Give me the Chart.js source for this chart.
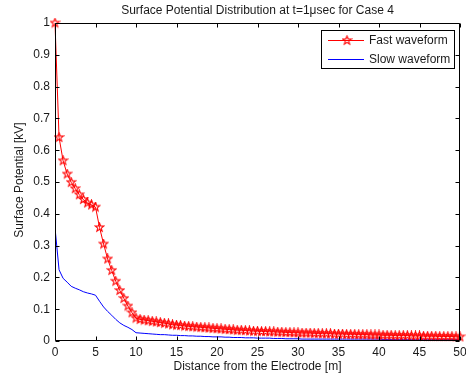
<!DOCTYPE html>
<html>
<head>
<meta charset="utf-8">
<script src="https://cdn.jsdelivr.net/npm/chart.js@4.4.1/dist/chart.umd.min.js"></script>
<style>
html,body{margin:0;padding:0;background:#fff;}
#wrap{width:466px;height:378px;position:relative;}
</style>
</head>
<body>
<div id="wrap"><canvas id="c"></canvas></div>
<script>
const titleText = "Surface Potential Distribution at t=1\u03BCsec for Case 4";
const xTitle = "Distance from the Electrode [m]";
const yTitle = "Surface Potential [kV]";
const seriesNames = ["Fast waveform", "Slow waveform"];

const distance = [0,0.5,1,1.5,2,2.5,3,3.5,4,4.5,5,5.5,6,6.5,7,7.5,8,8.5,9,9.5,
10,10.5,11,11.5,12,12.5,13,13.5,14,14.5,15,15.5,16,16.5,17,17.5,18,18.5,19,19.5,
20,20.5,21,21.5,22,22.5,23,23.5,24,24.5,25,25.5,26,26.5,27,27.5,28,28.5,29,29.5,
30,30.5,31,31.5,32,32.5,33,33.5,34,34.5,35,35.5,36,36.5,37,37.5,38,38.5,39,39.5,
40,40.5,41,41.5,42,42.5,43,43.5,44,44.5,45,45.5,46,46.5,47,47.5,48,48.5,49,49.5,50];

const fastWave = [1.0,0.64,0.567,0.525,0.499,0.479,0.46,0.445,0.434,0.428,
0.421,0.357,0.305,0.258,0.222,0.188,0.159,0.134,0.110,0.089,
0.072,0.068,0.066,0.064,0.062,0.060,0.058,0.056,0.054,0.051,
0.050,0.049,0.047,0.046,0.045,0.044,0.043,0.042,0.041,0.040,
0.039,0.038,0.037,0.036,0.035,0.034,0.034,0.033,0.032,0.031,
0.031,0.030,0.030,0.029,0.029,0.028,0.028,0.027,0.027,0.026,
0.026,0.025,0.025,0.025,0.024,0.024,0.023,0.023,0.023,0.022,
0.022,0.022,0.021,0.021,0.021,0.020,0.020,0.020,0.019,0.019,
0.019,0.018,0.018,0.018,0.017,0.017,0.017,0.017,0.016,0.016,
0.016,0.015,0.015,0.015,0.015,0.014,0.014,0.014,0.014,0.013,0.013];

const slowWave = [0.356,0.224,0.197,0.185,0.172,0.166,0.161,0.155,0.151,0.148,
0.144,0.125,0.107,0.093,0.081,0.068,0.057,0.049,0.043,0.036,
0.026,0.025,0.024,0.023,0.022,0.021,0.020,0.020,0.019,0.018,
0.018,0.017,0.017,0.016,0.016,0.015,0.015,0.014,0.014,0.013,
0.013,0.013,0.012,0.012,0.011,0.011,0.011,0.010,0.010,0.010,
0.009,0.009,0.009,0.009,0.008,0.008,0.008,0.007,0.007,0.007,
0.007,0.006,0.006,0.006,0.006,0.006,0.006,0.006,0.006,0.006,
0.006,0.006,0.006,0.006,0.006,0.006,0.006,0.006,0.006,0.006,
0.006,0.005,0.005,0.005,0.005,0.005,0.005,0.005,0.005,0.005,
0.005,0.005,0.005,0.005,0.005,0.005,0.005,0.005,0.005,0.005,0.005];

const xTicks = [0,5,10,15,20,25,30,35,40,45,50];
const yTicks = [0,0.1,0.2,0.3,0.4,0.5,0.6,0.7,0.8,0.9,1];

const FONT = '"Liberation Sans", Arial, sans-serif';
const TEXT = '#1a1a1a';

function makeStar(size, color){
  const cv = document.createElement('canvas');
  cv.width = size; cv.height = size;
  const g = cv.getContext('2d');
  const cx = size/2, cy = size/2, R = size/2 - 1, r = R*0.42;
  g.beginPath();
  for (let k=0;k<10;k++){
    const ang = -Math.PI/2 + k*Math.PI/5;
    const rr = (k%2===0)?R:r;
    const px = cx + rr*Math.cos(ang), py = cy + rr*Math.sin(ang);
    if(k===0) g.moveTo(px,py); else g.lineTo(px,py);
  }
  g.closePath();
  g.strokeStyle = color; g.lineWidth = 1.1;
  g.stroke();
  return cv;
}
const starImg = makeStar(11, '#ff0000');

const decor = {
  id:'decor',
  afterDraw(chart){
    const {ctx, chartArea:a, scales:{x,y}} = chart;
    ctx.save();
    ctx.strokeStyle = '#000'; ctx.lineWidth = 1;
    const L = Math.round(a.left)+0.5, R = Math.round(a.right)-0.5, T = Math.round(a.top)+0.5, B = Math.round(a.bottom)-0.5;
    ctx.beginPath();
    ctx.rect(L, T, R-L, B-T);
    ctx.stroke();
    const tl = 4;
    ctx.beginPath();
    xTicks.forEach(v=>{
      const px = Math.round(x.getPixelForValue(v))+0.5;
      ctx.moveTo(px,B); ctx.lineTo(px,B-tl);
      ctx.moveTo(px,T); ctx.lineTo(px,T+tl);
    });
    yTicks.forEach(v=>{
      const py = Math.round(y.getPixelForValue(v))+0.5;
      ctx.moveTo(L,py); ctx.lineTo(L+tl,py);
      ctx.moveTo(R,py); ctx.lineTo(R-tl,py);
    });
    ctx.stroke();

    // title & axis titles
    ctx.fillStyle = TEXT;
    ctx.font = '12px ' + FONT;
    ctx.textAlign = 'center'; ctx.textBaseline = 'middle';
    const cx = (a.left + a.right)/2;
    ctx.fillText(titleText, cx, 11);
    ctx.fillText(xTitle, cx, 367);
    ctx.save();
    ctx.translate(20, 180);
    ctx.rotate(-Math.PI/2);
    ctx.fillText(yTitle, 0, 0);
    ctx.restore();

    // legend
    const lx = 321.5, ly = 30.5, lw = 133, lh = 38;
    ctx.fillStyle = '#fff';
    ctx.fillRect(lx, ly, lw, lh);
    ctx.strokeStyle = '#000';
    ctx.strokeRect(lx, ly, lw, lh);
    ctx.lineWidth = 1;
    ctx.strokeStyle = '#ff0000';
    ctx.beginPath(); ctx.moveTo(328, 40.5); ctx.lineTo(364, 40.5); ctx.stroke();
    ctx.drawImage(starImg, 347-5.5, 40.5-5.5);
    ctx.strokeStyle = '#0000ff';
    ctx.beginPath(); ctx.moveTo(328, 59.5); ctx.lineTo(364, 59.5); ctx.stroke();
    ctx.fillStyle = TEXT;
    ctx.textAlign = 'left';
    ctx.fillText(seriesNames[0], 369, 41);
    ctx.fillText(seriesNames[1], 369, 60);
    ctx.restore();
  }
};

new Chart(document.getElementById('c'), {
  type:'line',
  data:{
    datasets:[
      {
        label: seriesNames[0],
        data: distance.map((d,i)=>({x:d, y:fastWave[i]})),
        borderColor:'#ff0000',
        borderWidth:1,
        pointStyle: starImg,
        pointRadius:5,
        pointHoverRadius:5,
        fill:false,
        tension:0,
        clip:false
      },
      {
        label: seriesNames[1],
        data: distance.map((d,i)=>({x:d, y:slowWave[i]})),
        borderColor:'#0000ff',
        borderWidth:1,
        pointRadius:0,
        fill:false,
        tension:0
      }
    ]
  },
  options:{
    responsive:true,
    maintainAspectRatio:false,
    animation:false,
    events:[],
    layout:{padding:{top:23,right:5,bottom:0,left:0}},
    plugins:{legend:{display:false}, title:{display:false}, tooltip:{enabled:false}},
    scales:{
      x:{
        type:'linear', min:0, max:50,
        afterBuildTicks: s => { s.ticks = xTicks.map(v=>({value:v})); },
        afterFit: s => { s.height = 37; s.paddingLeft = 0; s.paddingRight = 0; },
        grid:{display:false, drawTicks:false},
        border:{display:false},
        ticks:{padding:4, color:TEXT, font:{family:FONT, size:12}, maxRotation:0, autoSkip:false,
          callback: v => String(v)}
      },
      y:{
        type:'linear', min:0, max:1,
        afterBuildTicks: s => { s.ticks = yTicks.map(v=>({value:v})); },
        afterFit: s => { s.width = 55; s.paddingTop = 0; s.paddingBottom = 0; },
        grid:{display:false, drawTicks:false},
        border:{display:false},
        ticks:{padding:5, color:TEXT, font:{family:FONT, size:12}, autoSkip:false,
          callback: v => String(+v.toFixed(1))}
      }
    }
  },
  plugins:[decor]
});
</script>
</body>
</html>
